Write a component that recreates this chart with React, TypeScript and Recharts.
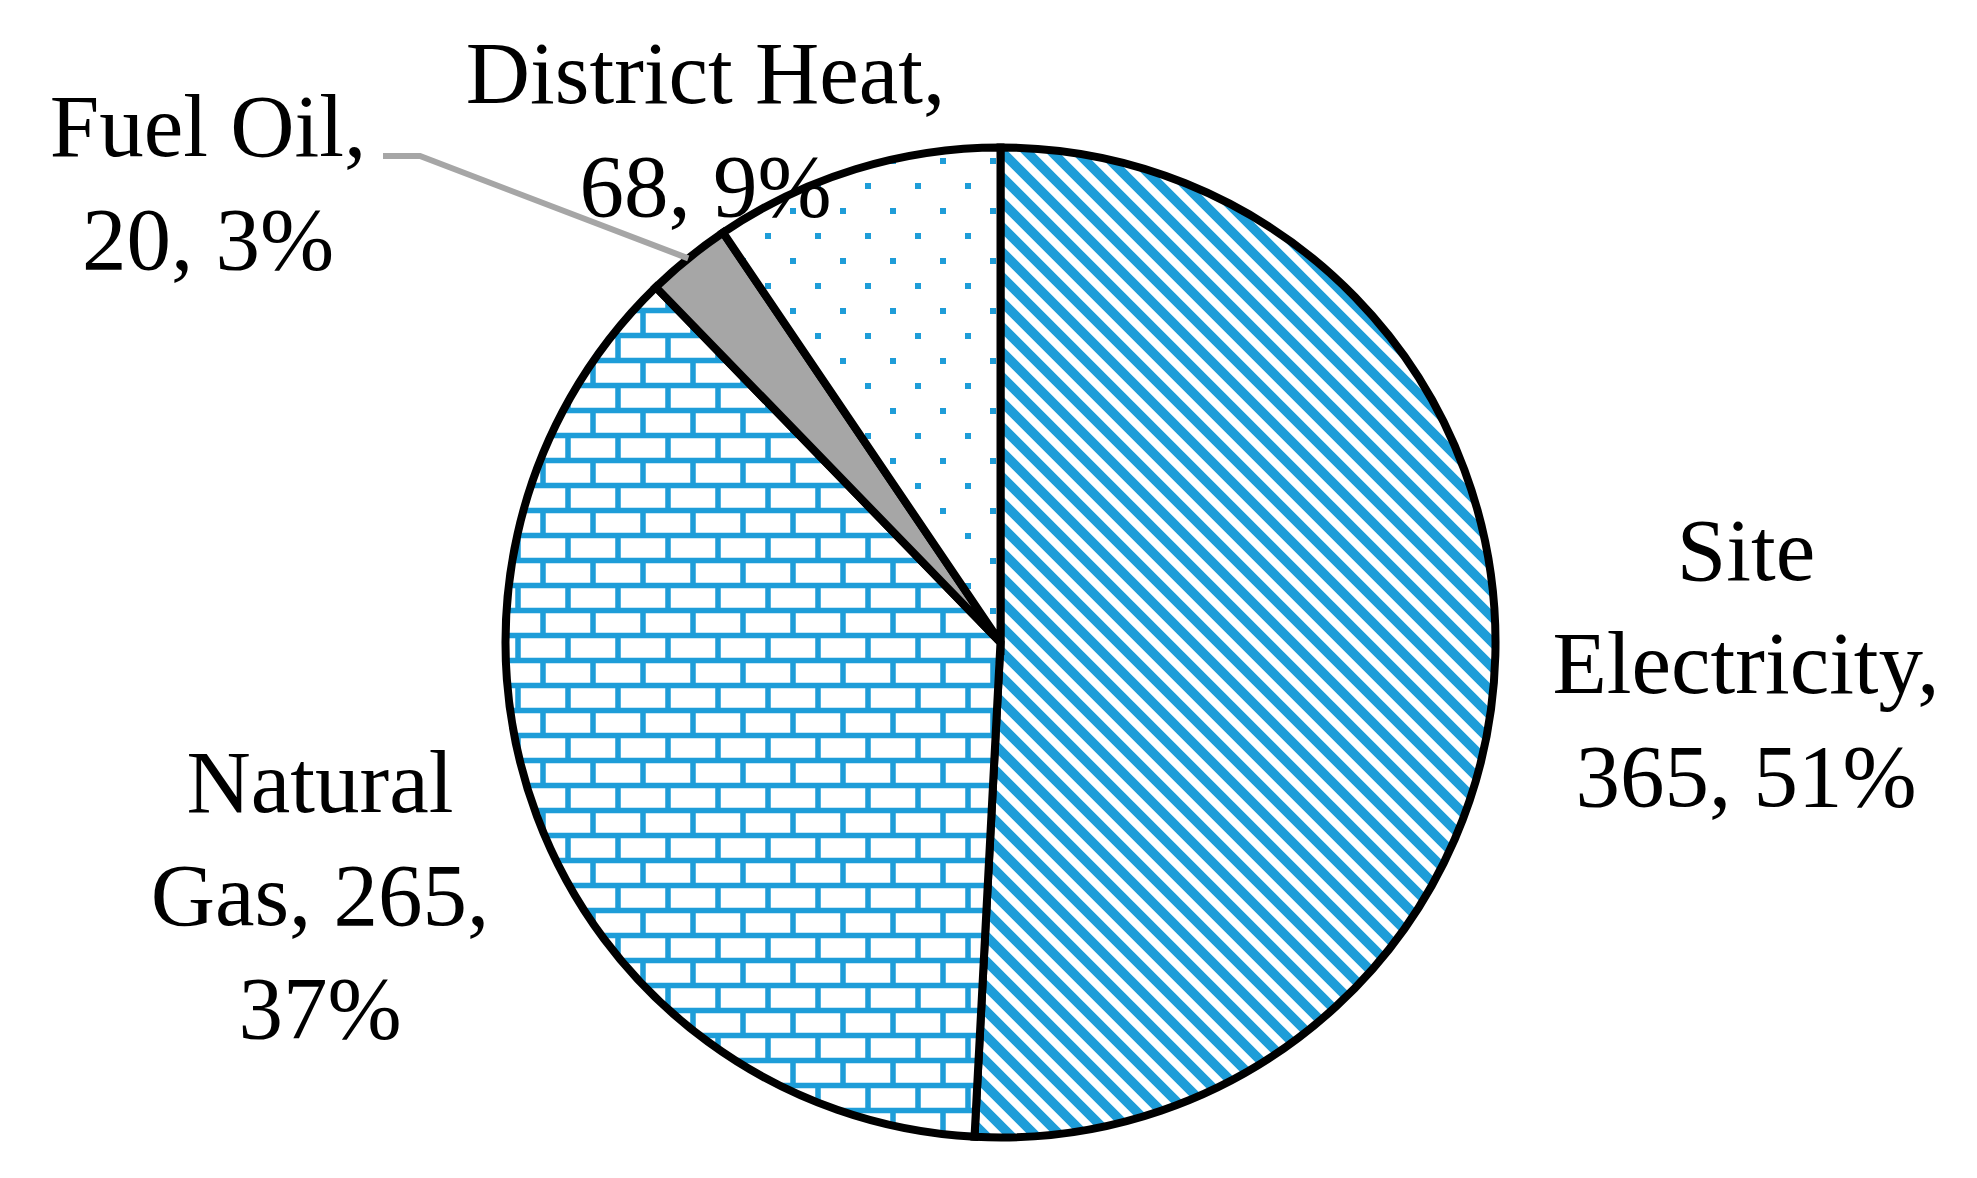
import { Cell, Pie, PieChart } from "recharts";

const categories = ["Site Electricity", "Natural Gas", "Fuel Oil", "District Heat"];
const energyUse = [365, 265, 20, 68];
const shares = ["51%", "37%", "3%", "9%"];

const fills = ["url(#stripes)", "url(#bricks)", "#a6a6a6", "url(#dots)"];

// words per line for each label, plus where the first line sits relative to the pie centre
const labelLayout: Record<string, { lines: number[]; dx: number; dy: number; leader?: [number, number][] }> = {
  "Site Electricity": { lines: [1, 1, 2], dx: 745.5, dy: -62.5 },
  "Natural Gas": { lines: [1, 2, 1], dx: -680.5, dy: 169.5 },
  "Fuel Oil": {
    lines: [2, 2],
    dx: -792.5,
    dy: -486.5,
    leader: [
      [-617.5, -486.5],
      [-580.5, -486.5],
    ],
  },
  "District Heat": { lines: [2, 2], dx: -295, dy: -539.5 },
};

const data = categories.map((name, i) => ({ name, value: energyUse[i], share: shares[i] }));

const BLUE = "#1e9dd8";
const LINE_H = 113;
const RAD = Math.PI / 180;

function renderLabel(props: any) {
  const { cx, cy, midAngle, outerRadius, payload } = props;
  const layout = labelLayout[payload.name];
  const words = `${payload.name}, ${payload.value}, ${payload.share}`.split(" ");
  const lines: string[] = [];
  let k = 0;
  for (const n of layout.lines) {
    lines.push(words.slice(k, k + n).join(" "));
    k += n;
  }
  const x = cx + layout.dx;
  const y = cy + layout.dy;
  let leader = null;
  if (layout.leader) {
    const ex = cx + outerRadius * Math.cos(-midAngle * RAD);
    const ey = cy + outerRadius * Math.sin(-midAngle * RAD);
    const pts = layout.leader.map(([a, b]) => `${cx + a},${cy + b}`).join(" ");
    leader = <polyline points={`${pts} ${ex},${ey}`} fill="none" stroke="#a6a6a6" strokeWidth={6} />;
  }
  return (
    <g>
      {leader}
      <text x={x} y={y} textAnchor="middle" fill="#000" fontSize={89} fontFamily="'Liberation Serif', serif">
        {lines.map((l, i) => (
          <tspan key={i} x={x} y={y + i * LINE_H}>
            {l}
          </tspan>
        ))}
      </text>
    </g>
  );
}

export default function App() {
  return (
    <div style={{ position: "absolute", left: 0, top: 0, background: "#fff" }}>
      <svg width={0} height={0} style={{ position: "absolute" }}>
        <defs>
          <pattern id="stripes" patternUnits="userSpaceOnUse" width={25} height={25}>
            <rect width={25} height={25} fill="#fff" />
            <path d="M-5,-5 L30,30 M20,-5 L30,5 M-5,20 L5,30" stroke={BLUE} strokeWidth={9.5} />
          </pattern>
          <pattern id="bricks" patternUnits="userSpaceOnUse" width={50} height={50}>
            <rect width={50} height={50} fill="#fff" />
            <rect x={0} y={7.75} width={50} height={5.5} fill={BLUE} />
            <rect x={0} y={32.75} width={50} height={5.5} fill={BLUE} />
            <rect x={40.25} y={10.5} width={5.5} height={25} fill={BLUE} />
            <rect x={15.25} y={35.5} width={5.5} height={14.5} fill={BLUE} />
            <rect x={15.25} y={0} width={5.5} height={10.5} fill={BLUE} />
          </pattern>
          <pattern id="dots" patternUnits="userSpaceOnUse" width={50} height={50}>
            <rect width={50} height={50} fill="#fff" />
            <rect x={15} y={33} width={6} height={6} fill={BLUE} />
            <rect x={40} y={8} width={6} height={6} fill={BLUE} />
          </pattern>
        </defs>
      </svg>
      <PieChart width={1977} height={1178}>
        <Pie
          data={data}
          dataKey="value"
          nameKey="name"
          cx={995.5}
          cy={637.5}
          outerRadius={495}
          startAngle={90}
          endAngle={-270}
          stroke="#000"
          strokeWidth={8}
          label={renderLabel}
          labelLine={false}
          isAnimationActive={false}
        >
          {data.map((d, i) => (
            <Cell key={d.name} fill={fills[i]} stroke="#000" strokeWidth={8} />
          ))}
        </Pie>
      </PieChart>
    </div>
  );
}
